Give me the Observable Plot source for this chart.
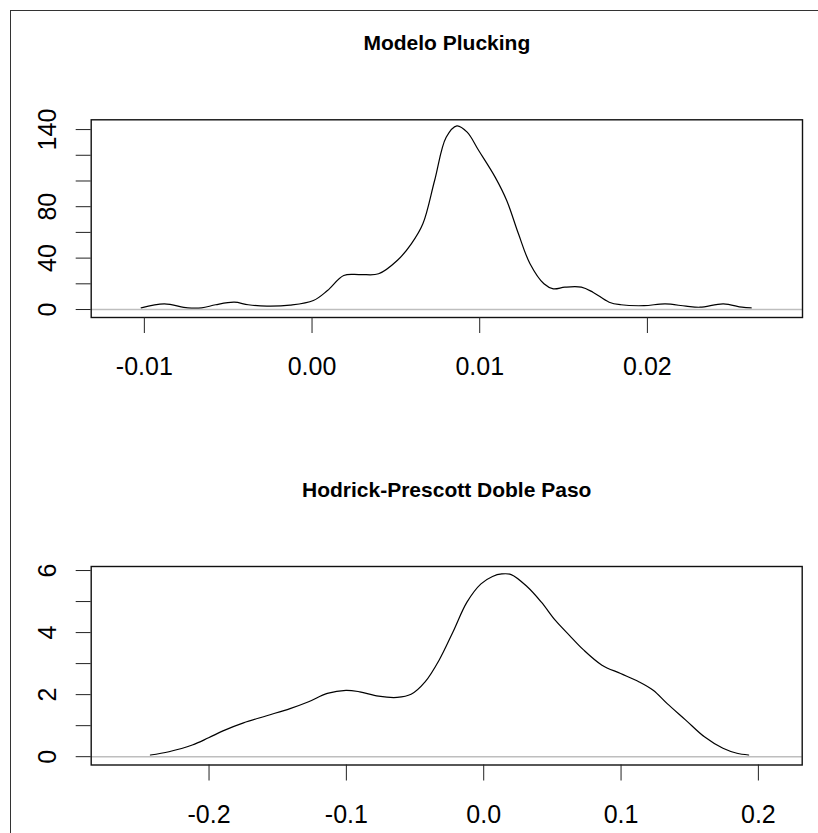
<!DOCTYPE html>
<html>
<head>
<meta charset="utf-8">
<script src="https://cdn.jsdelivr.net/npm/d3@7"></script>
<script src="https://cdn.jsdelivr.net/npm/@observablehq/plot@0.6"></script>
<style>
  html, body { margin: 0; padding: 0; background: white; }
  #wrap { position: relative; width: 818px; height: 833px; overflow: hidden; background: white; }
  #wrap svg { position: absolute; left: 0; }
  #border { position: absolute; left: 10px; top: 10px; width: 1000px; height: 1000px;
            border-left: 1px solid #333; border-top: 1px solid #333; pointer-events: none; }
</style>
</head>
<body>
<div id="wrap"></div>
<script>
// ---- Panel 1: Modelo Plucking (density estimate) ----
const title1 = "Modelo Plucking";
const x1 = [-0.01019,-0.00881,-0.00742,-0.00658,-0.00575,-0.00464,-0.00381,-0.00269,-0.00131,0.00008,
            0.00092,0.00189,0.00286,0.00397,0.00508,0.00592,0.00661,0.00731,0.00800,0.00864,
            0.00925,0.00994,0.01092,0.01161,0.01231,0.01300,0.01383,0.01439,0.01508,0.01606,
            0.01675,0.01772,0.01842,0.01980,0.02106,0.02230,0.02314,0.02453,0.02564,0.02619];
const y1 = [1.3,4.4,1.3,1.3,3.7,5.7,3.7,2.6,3.4,7.0,
            14.8,26.5,27.2,27.8,38.1,51.1,66.7,100.4,134.0,142.9,
            138.0,123.7,103.0,84.8,58.9,35.6,20.0,16.1,17.4,17.4,
            13.5,5.7,3.7,3.0,4.4,2.6,1.8,4.4,1.8,1.3];
const xTicks1 = [-0.01, 0.00, 0.01, 0.02];
const yTicks1 = [0, 20, 40, 60, 80, 100, 120, 140];
const yLabels1 = [0, 40, 80, 140];

// ---- Panel 2: Hodrick-Prescott Doble Paso (density estimate) ----
const title2 = "Hodrick-Prescott Doble Paso";
const x2 = [-0.2427,-0.2292,-0.2122,-0.2003,-0.1885,-0.1749,-0.1580,-0.1410,-0.1275,-0.1139,
            -0.1003,-0.0902,-0.0766,-0.0631,-0.0529,-0.0427,-0.0325,-0.0224,-0.0122,-0.0020,
            0.0064,0.0132,0.0200,0.0319,0.0420,0.0522,0.0624,0.0725,0.0861,0.0997,
            0.1132,0.1234,0.1336,0.1471,0.1607,0.1742,0.1844,0.1929];
const y2 = [0.054,0.16,0.375,0.61,0.857,1.09,1.32,1.55,1.77,2.04,
            2.14,2.09,1.95,1.91,2.01,2.41,3.11,4.02,4.98,5.57,
            5.81,5.89,5.87,5.47,4.98,4.39,3.91,3.45,2.95,2.68,
            2.41,2.14,1.71,1.18,0.64,0.27,0.11,0.054];
const xTicks2 = [-0.2, -0.1, 0.0, 0.1, 0.2];
const yTicks2 = [0, 1, 2, 3, 4, 5, 6];
const yLabels2 = [0, 2, 4, 6];

const FONT = "'Liberation Sans', Arial, Helvetica, sans-serif";

function panel({title, xs, ys, xDomain, yDomain, xTicks, yTicks, yLabels, digits,
                height, marginTop, marginBottom, marginRight, titleDy}) {
  const data = xs.map((x, i) => ({x, y: ys[i]}));
  return Plot.plot({
    width: 818,
    height,
    marginLeft: 90.7,
    marginRight,
    marginTop,
    marginBottom,
    style: {fontFamily: FONT, background: "transparent", color: "black", overflow: "visible"},
    x: {domain: xDomain, label: null},
    y: {domain: yDomain, label: null},
    marks: [
      Plot.line(data, {x: "x", y: "y", stroke: "black", strokeWidth: 1.2, curve: "catmull-rom"}),
      Plot.ruleY([0], {stroke: "#bebebe", strokeWidth: 1.5}),
      Plot.frame({stroke: "#111", strokeWidth: 1.4}),
      Plot.axisX({ticks: xTicks, tickSize: 16, tickPadding: 24, fontSize: 25, label: null,
                  tickFormat: d => d.toFixed(digits), stroke: "#222"}),
      Plot.axisY({ticks: yTicks, tickSize: 15, label: null, tickFormat: () => "", stroke: "#222"}),
      Plot.text(yLabels, {y: d => d, text: d => String(d), frameAnchor: "left", dx: -42.7,
                          rotate: -90, fontSize: 25, textAnchor: "middle", lineAnchor: "middle",
                          fill: "black"}),
      Plot.text([title], {text: d => d, frameAnchor: "top", dy: titleDy, lineAnchor: "top",
                          fontSize: 21, fontWeight: "bold", fill: "black"})
    ]
  });
}

const wrap = document.getElementById("wrap");

const p1 = panel({
  title: title1, xs: x1, ys: y1,
  xDomain: [-0.01317, 0.02925], yDomain: [-6.2, 147.6],
  xTicks: xTicks1, yTicks: yTicks1, yLabels: yLabels1, digits: 2,
  height: 416, marginTop: 119.3, marginBottom: 99, marginRight: 16, titleDy: -84.6
});
p1.style.top = "0px";
wrap.appendChild(p1);

const p2 = panel({
  title: title2, xs: x2, ys: y2,
  xDomain: [-0.2858, 0.2319], yDomain: [-0.268, 6.13],
  xTicks: xTicks2, yTicks: yTicks2, yLabels: yLabels2, digits: 1,
  height: 417, marginTop: 150, marginBottom: 68.5, marginRight: 16.3, titleDy: -84.3
});
p2.style.top = "416px";
wrap.appendChild(p2);

const border = document.createElement("div");
border.id = "border";
wrap.appendChild(border);
</script>
</body>
</html>
